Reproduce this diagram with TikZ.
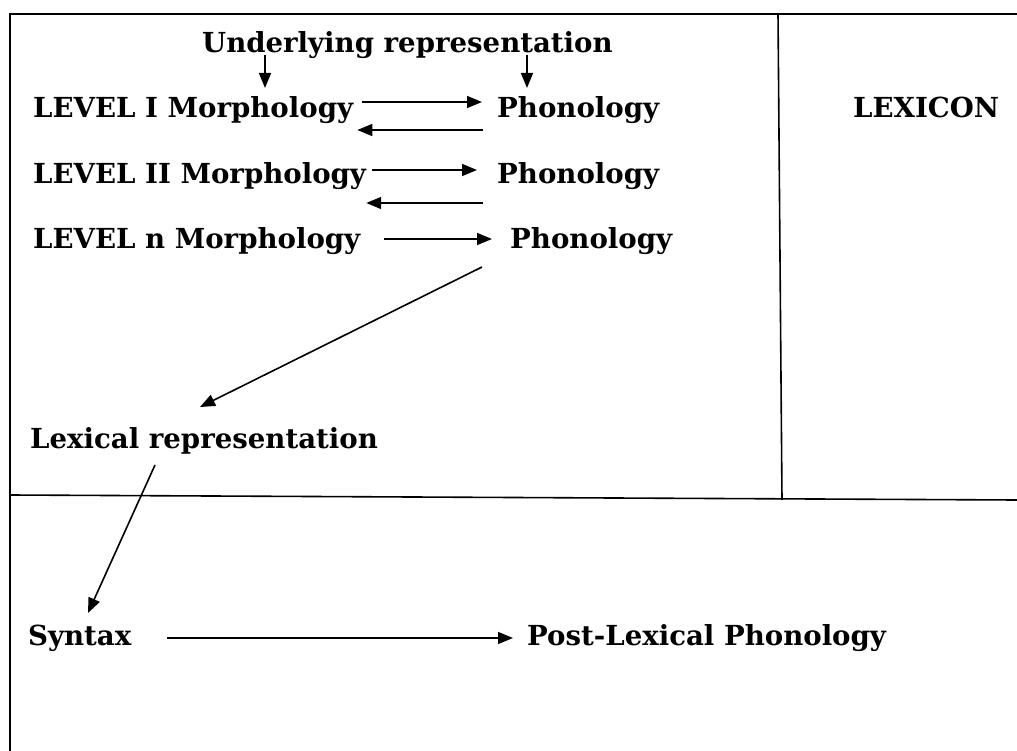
\documentclass[tikz,border=0pt]{standalone}
\usepackage{fontspec}
\setmainfont{DejaVu Serif}
\usetikzlibrary{arrows.meta,calc}
\begin{document}
\begin{tikzpicture}[x=1pt,y=-1pt,
  lbl/.style={anchor=base west,inner sep=0pt,font=\fontsize{27.6}{32}\selectfont\bfseries},
  arr/.style={line width=1.6pt,-{Triangle[length=15pt,width=12pt]}},
  frame/.style={line width=1.6pt}]
\useasboundingbox (0,0) rectangle (1017,751);
% frame
\draw[frame] (1017,14) -- (10,14) -- (10,751);
\draw[frame] (778,14) -- (782,500);
\draw[frame] (10,495) -- (1017,500);
% labels
\node[lbl] (u)  at (202,53)  {Underlying representation};
\node[lbl] (m1) at (33,118)  {LEVEL I Morphology};
\node[lbl] (p1) at (497,118) {Phonology};
\node[lbl] (m2) at (33,184)  {LEVEL II Morphology};
\node[lbl] (p2) at (497,184) {Phonology};
\node[lbl] (m3) at (33,249)  {LEVEL n Morphology};
\node[lbl] (p3) at (510,249) {Phonology};
\node[lbl] (lx) at (853,118) {LEXICON};
\node[lbl] (lr) at (30,448)  {Lexical representation};
\node[lbl] (sy) at (28,645)  {Syntax};
\node[lbl] (pl) at (527,645) {Post-Lexical Phonology};
% connectors
\draw[arr] ([shift={(63,2)}]u.base west) -- ([shift={(63,35)}]u.base west);
\draw[arr] ([shift={(325,2)}]u.base west) -- ([shift={(325,35)}]u.base west);
\draw[arr] ([shift={(9,-16)}]m1.base east) -- ([shift={(-15,-16)}]p1.base west);
\draw[arr] ([shift={(-14,12)}]p1.base west) -- ([shift={(4,12)}]m1.base east);
\draw[arr] ([shift={(6,-14)}]m2.base east) -- ([shift={(-20,-14)}]p2.base west);
\draw[arr] ([shift={(-14,19)}]p2.base west) -- ([shift={(0,19)}]m2.base east);
\draw[arr] ([shift={(24,-10)}]m3.base east) -- ([shift={(-18,-10)}]p3.base west);
\draw[arr] ([shift={(-28,18)}]p3.base west) -- ([shift={(170,-41)}]lr.base west);
\draw[arr] ([shift={(125,17)}]lr.base west) -- ([shift={(60,-32)}]sy.base west);
\draw[arr] ([shift={(35,-7)}]sy.base east) -- ([shift={(-14,-7)}]pl.base west);
\end{tikzpicture}
\end{document}
